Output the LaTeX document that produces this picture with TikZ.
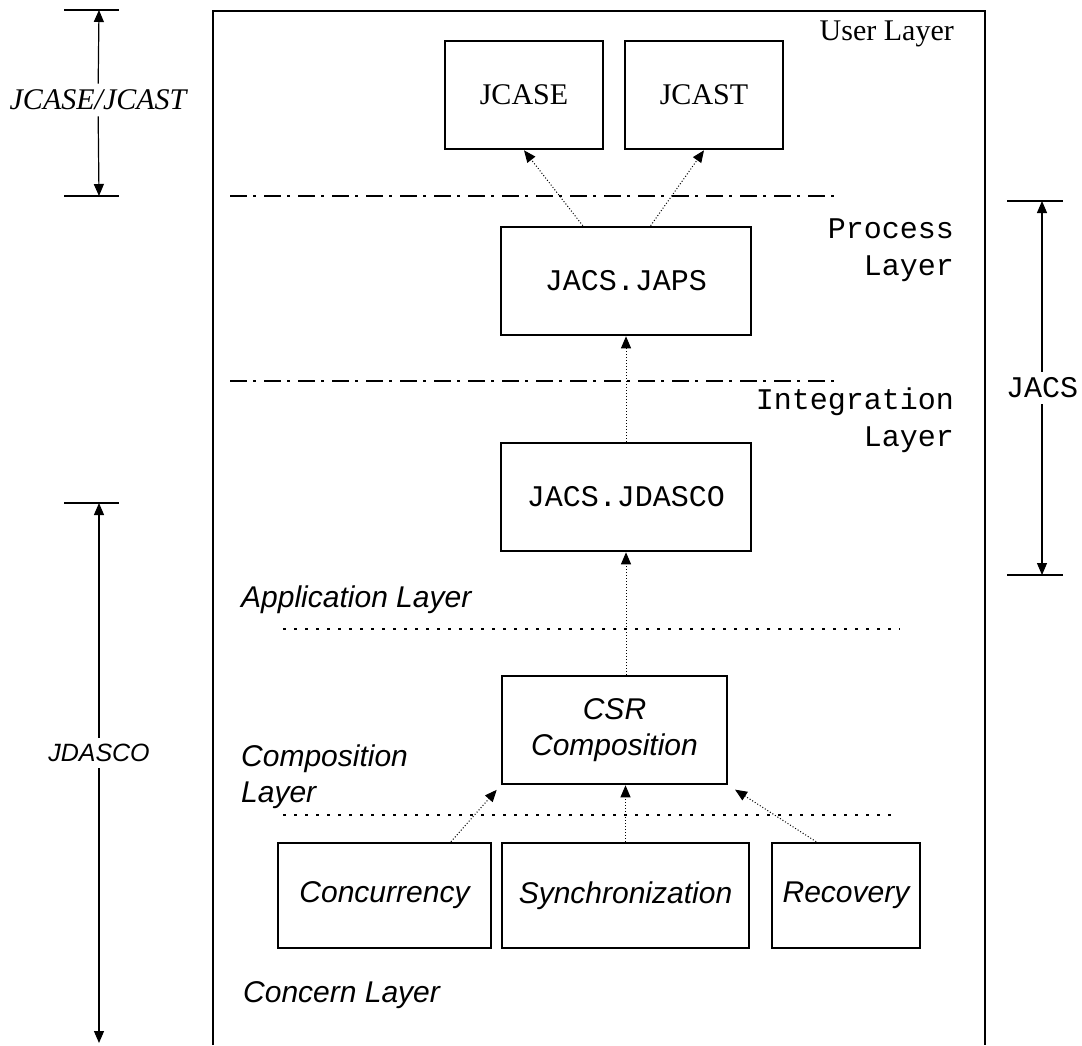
\documentclass[tikz,border=0pt]{standalone}
\usepackage{fontspec}
\setmainfont{Liberation Serif}
\newfontfamily\arialfont{Liberation Sans}
\newfontfamily\courfont{Liberation Mono}
\usetikzlibrary{arrows.meta}
\tikzset{every picture/.append style={x=1pt, y=-1pt}}
\tikzset{
    box/.style={draw, line width=2.6pt, minimum height=108pt, inner sep=0pt},
    serif/.style={font=\fontsize{30}{34}\selectfont},
    mono/.style={font=\courfont\fontsize{30}{37}\selectfont},
    sans/.style={font=\arialfont\itshape\fontsize{30}{36}\selectfont},
    flow/.style={line width=1pt, dash pattern=on 1pt off 2pt,
        -{Triangle[length=12pt, width=10pt]}},
    dimarr/.style={line width=1.2pt, -{Triangle[length=12pt, width=10pt]}},
    tick/.style={line width=1.6pt},
    dashdot/.style={line width=2pt, dash pattern=on 17pt off 6pt on 3pt off 8pt},
    dotline/.style={line width=2pt, dash pattern=on 3pt off 8pt}
}

\begin{document}
\begin{tikzpicture}
	\useasboundingbox (0, 0) rectangle (1082, 1045);
	% frame, open at the bottom
	\draw[line width=2.6pt] (213, 1045) -- (213, 11) -- (985, 11) -- (985, 1045);

	\node (jcase) [box, serif, minimum width=158pt] at (524, 95) {JCASE};
	\node (jcast) [box, serif, minimum width=158pt] at (704, 95) {JCAST};
	\node (japs) [box, mono, minimum width=250pt] at (626, 281) {JACS.JAPS};
	\node (jdasco) [box, mono, minimum width=250pt] at (626, 497) {JACS.JDASCO};
	\node (csr) [box, sans, minimum width=225pt, align=center] at (614.5, 730) {CSR\\Composition};
	\node (conc) [box, sans, minimum width=213pt, minimum height=105pt] at (384.5, 895.5) {Concurrency};
	\node (sync) [box, sans, minimum width=247pt, minimum height=105pt] at (625.5, 895.5) {Synchronization};
	\node (rec) [box, sans, minimum width=148pt, minimum height=105pt] at (846, 895.5) {Recovery};

	% layer names
	\node (userL) [serif, anchor=east, inner sep=0pt] at (954, 34) {User Layer};
	\node (procL) [mono, anchor=east, align=right, inner sep=0pt] at (954, 250) {Process\\Layer};
	\node (integL) [mono, anchor=east, align=right, inner sep=0pt] at (954, 420) {Integration\\Layer};
	\node (appL) [sans, anchor=west, inner sep=0pt] at (241, 600) {Application Layer};
	\node (compL) [sans, anchor=west, align=left, inner sep=0pt] at (241, 777) {Composition\\Layer};
	\node (concL) [sans, anchor=west, inner sep=0pt] at (243, 995) {Concern Layer};

	% layer borders
	\draw[dashdot] (230, 196) -- (840, 196);
	\draw[dashdot] (230, 381) -- (840, 381);
	\draw[dotline] (283, 629) -- (900, 629);
	\draw[dotline] (283, 815) -- (893, 815);

	\draw[flow] (japs.128) -- (jcase.south); \draw[flow] (japs.66) -- (jcast.south);
	\draw[flow] (jdasco.north) -- (japs.south);
	\draw[flow] (jdasco.south |- csr.north) -- (jdasco.south);
	\draw[flow, shorten >=6pt] (conc.39) -- (csr.south west);
	\draw[flow] (sync.north) -- (sync.north |- csr.south);
	\draw[flow, shorten >=8pt] (rec.119) -- (csr.south east);

	% extents
	\coordinate (ucTop) at (99, 10); \coordinate (ucBot) at (99, 196);
	\coordinate (jsTop) at (1042, 201); \coordinate (jsBot) at (1042, 575);
	\coordinate (jdTop) at (99, 503); \coordinate (jdBot) at (99, 1043);
	\draw[tick] (64, 10) -- (119, 10); \draw[tick] (64, 196) -- (119, 196);
	\draw[tick] (1007, 201) -- (1063, 201); \draw[tick] (1007, 575) -- (1063, 575);
	\draw[tick] (64, 503) -- (119, 503);
	\node (ucLbl) [font=\itshape\fontsize{30}{34}\selectfont, inner sep=6pt] at (98, 100) {JCASE/JCAST};
	\node (jsLbl) [mono, inner sep=6pt] at (1042, 388) {JACS};
	\node (jdLbl) [font=\arialfont\itshape\fontsize{25}{30}\selectfont, inner sep=6pt] at (99, 753) {JDASCO};
	\draw[dimarr] (ucLbl) -- (ucTop); \draw[dimarr] (ucLbl) -- (ucBot);
	\draw[dimarr] (jsLbl) -- (jsTop); \draw[dimarr] (jsLbl) -- (jsBot);
	\draw[dimarr] (jdLbl) -- (jdTop); \draw[dimarr] (jdLbl) -- (jdBot);
\end{tikzpicture}
\end{document}
